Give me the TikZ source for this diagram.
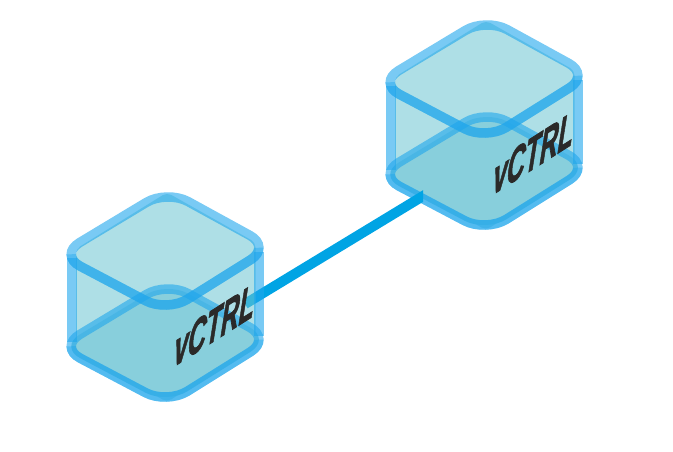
\documentclass[tikz,border=0pt]{standalone}
\usepackage{fontspec}
\setmainfont{Liberation Sans}
\newfontfamily\labelfont[FakeBold=2]{Liberation Sans Bold}
\definecolor{edgeblue}{HTML}{1FA6EC}
\definecolor{faceglass}{HTML}{6CC5D1}
\definecolor{floorface}{HTML}{88CFDC}
\definecolor{linkblue}{HTML}{00A4E4}
\definecolor{inkdark}{HTML}{2B2A29}
\tikzset{
  edgeline/.style={draw=edgeblue,draw opacity=.6,line width=9.5pt},
  frontline/.style={draw=edgeblue,draw opacity=.42,line width=9.5pt},
  rhombusround/.style={rounded corners=24pt},
  cubepic/.pic={
    % glass body, kept inside the edge bands
    \fill[faceglass,fill opacity=.55,rounded corners=5pt]
      (167,192.5)--(255.5,242.5)--(255.5,346)--(167,402)--(76,350)--(76,249)--cycle;
    % floor
    \fill[floorface,rhombusround] (167,282)--(271,339)--(167,404)--(59,347)--cycle;
    % vertical edges
    \draw[edgeline] (72,258)--(72,342);
    \draw[edgeline] (259,252)--(259,336);
    % floor outline, front darker
    \draw[edgeline,rhombusround] (167,282)--(271,339)--(167,404)--(59,347)--cycle;
    \begin{scope}
      \clip (50,347)--(280,339)--(280,420)--(50,420)--cycle;
      \draw[frontline,rhombusround] (167,282)--(271,339)--(167,404)--(59,347)--cycle;
    \end{scope}
    % top outline, front darker
    \draw[edgeline,rhombusround] (167,190)--(271,247)--(167,312)--(59,255)--cycle;
    \begin{scope}
      \clip (50,255)--(280,247)--(280,325)--(50,325)--cycle;
      \draw[frontline,rhombusround] (167,190)--(271,247)--(167,312)--(59,255)--cycle;
    \end{scope}
    % label
    \begin{scope}[shift={(172,368)},cm={1.24,.79,.41,2.6,(0,0)}]
      \node[transform shape,anchor=base west,inner sep=0pt,text=inkdark,font=\labelfont\fontsize{20}{24}\selectfont] (cubelabel) at (0,0) {vCTRL};
    \end{scope}
  }
}
\begin{document}
\begin{tikzpicture}[x=1pt,y=-1pt]
\useasboundingbox (0,0) rectangle (673,451);
\pic at (319,-172) {cubepic};
\coordinate (linkstart) at (245,304);
\coordinate (linkend) at (433,190);
\begin{scope}
  \clip (200,150) rectangle (423,330);
  \draw[linkblue,line width=10pt] (linkstart)--(linkend);
\end{scope}
\pic at (0,0) {cubepic};
\end{tikzpicture}
\end{document}
